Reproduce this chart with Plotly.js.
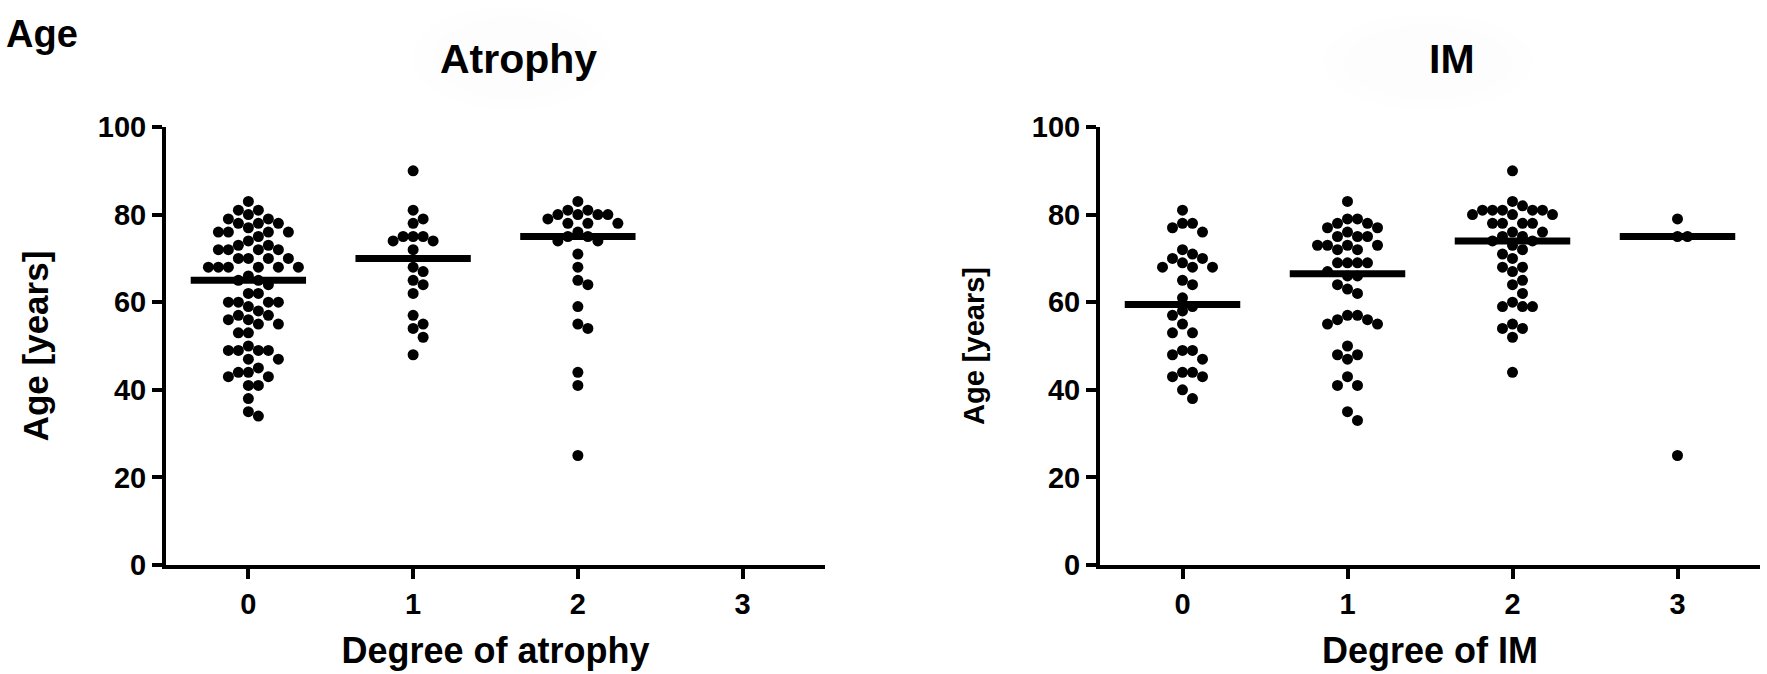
<!DOCTYPE html>
<html>
<head>
<meta charset="utf-8">
<script src="https://cdn.plot.ly/plotly-3.0.1.min.js"></script>
<style>
  html, body { margin: 0; padding: 0; background: #ffffff; }
  #chart { width: 1767px; height: 674px; }
</style>
</head>
<body>
<div id="chart"></div>
<script>
var W = 1767;
var H = 674;

// categories and ticks
var degrees = [0, 1, 2, 3];
var degreeLabels = ['0', '1', '2', '3'];
var ageTicks = [0, 20, 40, 60, 80, 100];

// ages (years) per degree of atrophy
var atrophy0 = [83, 81, 81, 80, 79, 79, 78, 78, 78, 77, 76, 76, 76, 76, 75, 74, 73, 73, 72, 72,
  72, 72, 70, 70, 70, 70, 68, 68, 68, 68, 68, 68, 66, 65, 65, 64, 62, 62, 60, 60,
  60, 60, 59, 58, 57, 57, 56, 56, 55, 55, 53, 53, 50, 49, 49, 49, 49, 47, 47, 45,
  44, 44, 43, 43, 41, 41, 38, 35, 34];
var atrophy1 = [90, 81, 79, 78, 75, 75, 75, 74, 74, 72, 68, 67, 65, 64, 62, 57, 55, 54, 52, 48];
var atrophy2 = [83, 81, 81, 80, 80, 80, 80, 79, 78, 78, 78, 76, 75, 75, 74, 74, 71, 68, 65, 64,
  59, 55, 54, 44, 41, 25];
var atrophy3 = [];
var atrophyMedians = [65, 70, 75, null];

// ages (years) per degree of IM
var im0 = [81, 78, 78, 77, 76, 72, 71, 70, 70, 69, 68, 68, 68, 65, 64, 61, 59, 58, 57, 55,
  53, 53, 49, 49, 48, 47, 44, 44, 43, 43, 40, 38];
var im1 = [83, 79, 79, 78, 78, 77, 77, 76, 75, 75, 75, 73, 73, 73, 73, 72, 72, 69, 69, 69,
  69, 67, 66, 66, 64, 63, 62, 57, 57, 56, 56, 55, 55, 50, 48, 48, 47, 43, 41, 41, 35, 33];
var im2 = [90, 83, 82, 81, 81, 81, 81, 81, 80, 80, 80, 78, 78, 78, 78, 76, 76, 75, 75, 74,
  74, 73, 72, 71, 70, 68, 68, 67, 65, 64, 62, 60, 59, 59, 59, 55, 54, 54, 52, 44];
var im3 = [79, 75, 75, 25];
var imMedians = [59.5, 66.5, 74, 75];

var FONT = 'Arial, "Liberation Sans", sans-serif';
var leftDomain = [166 / W, 825 / W];
var rightDomain = [1100 / W, 1760 / W];
var yDomain = [(H - 565) / H, (H - 127) / H];
var xRange = [-0.5, 3.5];
var yRange = [0, 100];

// simple beeswarm: spread equal-ish values sideways so dots don't overlap
function swarm(groups, domain) {
  var pxPerX = (domain[1] - domain[0]) * W / (xRange[1] - xRange[0]);
  var pxPerY = (yDomain[1] - yDomain[0]) * H / (yRange[1] - yRange[0]);
  var step = 10;
  var minDist = 9.6;
  var xs = [];
  var ys = [];
  groups.forEach(function (values, g) {
    var placed = [];
    var sorted = values.slice().sort(function (a, b) { return b - a; });
    sorted.forEach(function (v) {
      var py = v * pxPerY;
      var off = 0;
      for (var k = 0; k < 40; k++) {
        off = Math.ceil(k / 2) * (k % 2 ? 1 : -1) * step;
        var hit = placed.some(function (p) {
          return Math.hypot(p.x - off, p.y - py) < minDist;
        });
        if (!hit) break;
      }
      placed.push({ x: off, y: py });
      xs.push(degrees[g] + off / pxPerX);
      ys.push(v);
    });
  });
  return { x: xs, y: ys };
}

function median_lines(medians) {
  var xs = [];
  var ys = [];
  medians.forEach(function (m, g) {
    if (m === null) {
      return;
    }
    xs.push(degrees[g] - 0.35, degrees[g] + 0.35, null);
    ys.push(m, m, null);
  });
  return { x: xs, y: ys };
}

var leftDots = swarm([atrophy0, atrophy1, atrophy2, atrophy3], leftDomain);
var rightDots = swarm([im0, im1, im2, im3], rightDomain);
var leftMed = median_lines(atrophyMedians);
var rightMed = median_lines(imMedians);

var traces = [
  { x: leftDots.x, y: leftDots.y, xaxis: 'x', yaxis: 'y', type: 'scatter', mode: 'markers',
    marker: { color: '#000', size: 11 }, hoverinfo: 'y' },
  { x: leftMed.x, y: leftMed.y, xaxis: 'x', yaxis: 'y', type: 'scatter', mode: 'lines',
    line: { color: '#000', width: 7 }, hoverinfo: 'skip' },
  { x: rightDots.x, y: rightDots.y, xaxis: 'x2', yaxis: 'y2', type: 'scatter', mode: 'markers',
    marker: { color: '#000', size: 11 }, hoverinfo: 'y' },
  { x: rightMed.x, y: rightMed.y, xaxis: 'x2', yaxis: 'y2', type: 'scatter', mode: 'lines',
    line: { color: '#000', width: 7 }, hoverinfo: 'skip' }
];

function x_axis(domain, anchor, title) {
  return {
    domain: domain,
    anchor: anchor,
    range: xRange,
    tickvals: degrees,
    ticktext: degreeLabels,
    ticks: 'outside',
    ticklen: 10,
    tickwidth: 4,
    tickcolor: '#000',
    showline: true,
    linewidth: 4,
    linecolor: '#000',
    showgrid: false,
    zeroline: false,
    tickfont: { family: FONT, size: 29, weight: 'bold', color: '#000' },
    title: { text: title, standoff: 20, font: { family: FONT, size: 36, weight: 'bold', color: '#000' } }
  };
}

function y_axis(anchor, titleSize, standoff) {
  return {
    domain: yDomain,
    anchor: anchor,
    range: yRange,
    tickvals: ageTicks,
    ticks: 'outside',
    ticklen: 10,
    tickwidth: 4,
    tickcolor: '#000',
    showline: true,
    linewidth: 4,
    linecolor: '#000',
    showgrid: false,
    zeroline: false,
    tickfont: { family: FONT, size: 29, weight: 'bold', color: '#000' },
    title: { text: 'Age [years]', standoff: standoff, font: { family: FONT, size: titleSize, weight: 'bold', color: '#000' } }
  };
}

function glow(cx, cy, rx, ry, alpha) {
  return {
    type: 'circle', xref: 'paper', yref: 'paper', layer: 'below',
    x0: (cx - rx) / W, x1: (cx + rx) / W,
    y0: (H - cy - ry) / H, y1: (H - cy + ry) / H,
    fillcolor: 'rgba(0,0,0,' + alpha + ')', line: { width: 0 }
  };
}

var layout = {
  width: W,
  height: H,
  margin: { l: 0, r: 0, t: 0, b: 0, pad: 0 },
  paper_bgcolor: '#ffffff',
  plot_bgcolor: 'rgba(0,0,0,0)',
  showlegend: false,
  font: { family: FONT, color: '#000' },
  xaxis: x_axis(leftDomain, 'y', 'Degree of atrophy'),
  yaxis: y_axis('x', 35, 40),
  xaxis2: x_axis(rightDomain, 'y2', 'Degree of IM'),
  yaxis2: y_axis('x2', 29, 40),
  shapes: [
    glow(512, 58, 100, 52, 0.005),
    glow(512, 58, 80, 42, 0.005),
    glow(1428, 62, 105, 48, 0.005),
    glow(1428, 62, 85, 38, 0.005)
  ],
  annotations: [
    { text: 'Age', x: 4 / W, y: (H - 34) / H, xref: 'paper', yref: 'paper', xanchor: 'left', yanchor: 'middle',
      showarrow: false, font: { family: FONT, size: 38, weight: 'bold', color: '#000' } },
    { text: 'Atrophy', x: 518 / W, y: (H - 59) / H, xref: 'paper', yref: 'paper', xanchor: 'center', yanchor: 'middle',
      showarrow: false, font: { family: FONT, size: 41, weight: 'bold', color: '#000' } },
    { text: 'IM', x: 1452 / W, y: (H - 59) / H, xref: 'paper', yref: 'paper', xanchor: 'center', yanchor: 'middle',
      showarrow: false, font: { family: FONT, size: 41, weight: 'bold', color: '#000' } }
  ]
};

var config = { displayModeBar: false, staticPlot: false };

Plotly.newPlot('chart', traces, layout, config);
</script>
</body>
</html>
